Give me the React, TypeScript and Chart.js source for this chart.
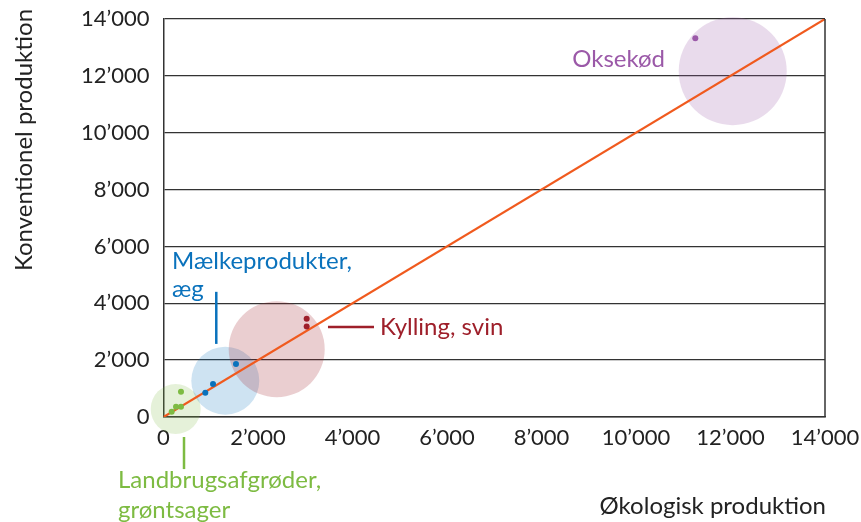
import React, { useEffect, useRef } from "react";
import { Chart, registerables } from "chart.js";

Chart.register(...registerables);

// Axis ticks
const xTicks = [0, 2000, 4000, 6000, 8000, 10000, 12000, 14000];
const yTicks = [0, 2000, 4000, 6000, 8000, 10000, 12000, 14000];

// Group names
const groups = ["Landbrugsafgrøder, grøntsager", "Mælkeprodukter, æg", "Kylling, svin", "Oksekød"];
const groupColors = ["#7dbb42", "#0a72bc", "#9e1f2a", "#9b59a8"];
const groupFills = [
  "rgba(125,187,66,0.2)",
  "rgba(10,114,188,0.2)",
  "rgba(158,31,42,0.22)",
  "rgba(155,89,168,0.22)",
];

// Points per group (økologisk x, konventionel y)
const landbrugX = [370, 265, 370, 173];
const landbrugY = [891, 363, 363, 187];
const maelkX = [1534, 1048, 885];
const maelkY = [1867, 1162, 856];
const kyllingX = [3030, 3030];
const kyllingY = [3452, 3181];
const oksekodX = [11255];
const oksekodY = [13325];

// Group averages (bubble centres) and bubble radius (px)
const bubbleX = [258, 1308, 2396, 12047];
const bubbleY = [282, 1279, 2385, 12163];
const bubbleR = [25, 34, 48, 54];

// Diagonal x = y
const diagonal = [0, 14000];

const fmt = (v: number) => {
  if (v === 0) return "0";
  const th = Math.floor(v / 1000);
  const rest = String(v % 1000).padStart(3, "0");
  return th + "\u2019" + rest;
};

const FONT = "Lato, 'Noto Sans', sans-serif";

export default function App() {
  const ref = useRef<HTMLCanvasElement | null>(null);

  useEffect(() => {
    document.body.style.margin = "0";
    const canvas = ref.current!;
    const pts = (xs: number[], ys: number[]) => xs.map((x, i) => ({ x, y: ys[i] }));

    const labelsPlugin = {
      id: "labelsPlugin",
      afterDraw(chart: any) {
        const { ctx, chartArea, scales } = chart;
        const xs = scales.x;
        const ys = scales.y;
        const X = (v: number) => xs.getPixelForValue(v);
        const Y = (v: number) => ys.getPixelForValue(v);
        ctx.save();
        // right frame line
        ctx.strokeStyle = "#333";
        ctx.lineWidth = 1.5;
        ctx.beginPath();
        ctx.moveTo(chartArea.right, chartArea.top);
        ctx.lineTo(chartArea.right, chartArea.bottom);
        ctx.stroke();

        ctx.font = `24px ${FONT}`;
        ctx.textBaseline = "middle";
        ctx.textAlign = "left";

        // Oksekød
        ctx.fillStyle = groupColors[3];
        ctx.fillText("Oksekød", X(8650), Y(12580));

        // Kylling, svin
        ctx.strokeStyle = groupColors[2];
        ctx.lineWidth = 2.5;
        ctx.beginPath();
        ctx.moveTo(X(3481), Y(3170));
        ctx.lineTo(X(4455), Y(3170));
        ctx.stroke();
        ctx.fillStyle = groupColors[2];
        ctx.fillText("Kylling, svin", X(4582), Y(3170));

        // Mælkeprodukter, æg
        ctx.strokeStyle = groupColors[1];
        ctx.beginPath();
        ctx.moveTo(X(1117), Y(4403));
        ctx.lineTo(X(1117), Y(2571));
        ctx.stroke();
        ctx.fillStyle = groupColors[1];
        ctx.fillText("Mælkeprodukter,", X(180), Y(5495));
        ctx.fillText("æg", X(180), Y(4509));

        // Landbrugsafgrøder, grøntsager
        ctx.strokeStyle = groupColors[0];
        ctx.beginPath();
        ctx.moveTo(X(434), Y(-704));
        ctx.lineTo(X(434), Y(-1832));
        ctx.stroke();
        ctx.fillStyle = groupColors[0];
        ctx.fillText("Landbrugsafgrøder,", X(-963), Y(-2219));
        ctx.fillText("grøntsager", X(-963), Y(-3276));

        // Axis titles
        ctx.fillStyle = "#222";
        ctx.textAlign = "right";
        ctx.fillText("Økologisk produktion", chartArea.right + 1, 506);
        ctx.translate(24, 140);
        ctx.rotate(-Math.PI / 2);
        ctx.textAlign = "center";
        ctx.fillText("Konventionel produktion", 0, 0);
        ctx.restore();
      },
    };

    const chart = new Chart(canvas, {
      type: "bubble",
      data: {
        datasets: [
          {
            type: "line" as any,
            data: pts(diagonal, diagonal),
            borderColor: "#f05a1e",
            borderWidth: 2.2,
            pointRadius: 0,
            fill: false,
            order: 2,
          } as any,
          ...[
            [landbrugX, landbrugY],
            [maelkX, maelkY],
            [kyllingX, kyllingY],
            [oksekodX, oksekodY],
          ].map(([xs, ys], i) => ({
            label: groups[i],
            data: xs.map((x, j) => ({ x, y: ys[j], r: 3 })),
            backgroundColor: groupColors[i],
            borderWidth: 0,
            order: 1,
            clip: false,
          })),
          {
            label: "Gennemsnit",
            data: bubbleX.map((x, i) => ({ x, y: bubbleY[i], r: bubbleR[i] })),
            backgroundColor: groupFills,
            borderWidth: 0,
            order: 3,
            clip: false,
          },
        ],
      },
      options: {
        animation: false,
        responsive: false,
        events: [],
        layout: { autoPadding: false, padding: { top: 19, right: 36, left: 0, bottom: 0 } },
        plugins: { legend: { display: false }, tooltip: { enabled: false } },
        scales: {
          x: {
            type: "linear",
            min: 0,
            max: 14000,
            afterBuildTicks: (s: any) => {
              s.ticks = xTicks.map((v) => ({ value: v }));
            },
            afterFit: (s: any) => {
              s.height = 105;
              s.paddingLeft = 0;
              s.paddingRight = 0;
              s.paddingTop = 0;
              s.paddingBottom = 0;
            },
            grid: { display: false, drawTicks: false },
            border: { display: true, color: "#333", width: 1.5 },
            ticks: {
              padding: 8,
              color: "#222",
              font: { family: FONT, size: 22 },
              maxRotation: 0,
              callback: (v: any) => fmt(Number(v)),
            },
          },
          y: {
            type: "linear",
            min: 0,
            max: 14000,
            afterBuildTicks: (s: any) => {
              s.ticks = yTicks.map((v) => ({ value: v }));
            },
            afterFit: (s: any) => {
              s.width = 163.5;
              s.paddingLeft = 0;
              s.paddingRight = 0;
              s.paddingTop = 0;
              s.paddingBottom = 0;
            },
            grid: { display: true, color: "#333", lineWidth: 1.3, drawTicks: false },
            border: { display: true, color: "#333", width: 1.5 },
            ticks: {
              padding: 14,
              color: "#222",
              font: { family: FONT, size: 22 },
              callback: (v: any) => fmt(Number(v)),
            },
          },
        },
      },
      plugins: [labelsPlugin],
    } as any);

    return () => chart.destroy();
  }, []);

  return (
    <div style={{ position: "absolute", left: 0, top: 0, width: 861, height: 522 }}>
      <canvas ref={ref} width={861} height={522} style={{ width: 861, height: 522 }} />
    </div>
  );
}
